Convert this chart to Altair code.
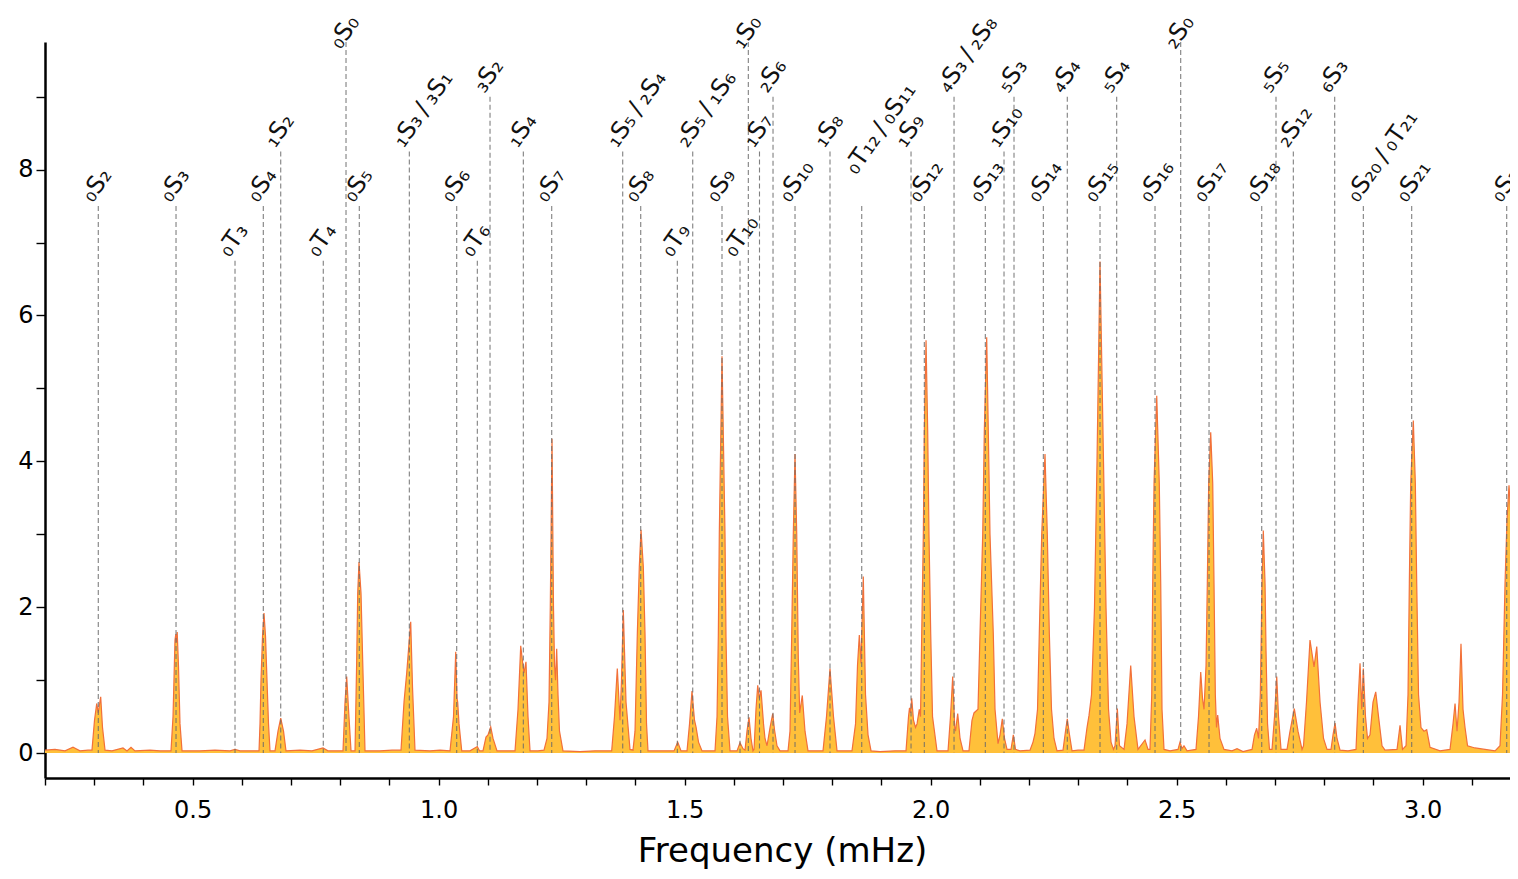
import altair as alt
import pandas as pd

# ---- spectrum (frequency in mHz, amplitude); one line per peak group ----
freq = [
    0.2000, 0.2203, 0.2407, 0.2569, 0.2711, 0.2874,
    0.2955, 0.3006, 0.3051, 0.3081, 0.3132, 0.3169, 0.3220,
    0.3362, 0.3585, 0.3667, 0.3748, 0.3829, 0.4134, 0.4337,
    0.4561, 0.4602, 0.4642, 0.4659, 0.4671, 0.4687, 0.4713, 0.4744, 0.4785,
    0.5150, 0.5455, 0.5760, 0.5862, 0.5963, 0.6207,
    0.6350, 0.6370, 0.6390, 0.6421, 0.6451, 0.6482, 0.6512, 0.6543, 0.6573,
    0.6675, 0.6736, 0.6791, 0.6848, 0.6898,
    0.7183, 0.7427, 0.7650, 0.7752, 0.7955,
    0.8057, 0.8098, 0.8132, 0.8169, 0.8220,
    0.8301, 0.8335, 0.8356, 0.8382, 0.8423, 0.8457, 0.8504,
    0.8809, 0.9053,
    0.9236, 0.9297, 0.9352, 0.9398, 0.9433, 0.9470, 0.9520,
    0.9825, 1.0028,
    1.0232, 1.0303, 1.0348, 1.0374, 1.0388, 1.0415, 1.0470,
    1.0638, 1.0787, 1.0831,
    1.0902, 1.0963, 1.1004, 1.1059, 1.1106, 1.1187,
    1.1350,
    1.1553, 1.1614, 1.1669, 1.1715, 1.1736, 1.1776, 1.1817, 1.1858,
    1.2020, 1.2142,
    1.2203, 1.2244, 1.2270, 1.2305, 1.2335, 1.2356, 1.2376, 1.2400, 1.2427, 1.2457, 1.2528,
    1.2874, 1.3179,
    1.3518, 1.3575, 1.3632, 1.3687, 1.3717, 1.3754, 1.3809, 1.3890,
    1.3951, 1.3992, 1.4039, 1.4079, 1.4114, 1.4161, 1.4195, 1.4226, 1.4256,
    1.4500,
    1.4785, 1.4860, 1.4927,
    1.5049, 1.5100, 1.5150, 1.5201, 1.5232, 1.5283, 1.5354,
    1.5618, 1.5659, 1.5685, 1.5705, 1.5760, 1.5821, 1.5841, 1.5872, 1.5923,
    1.6065, 1.6126, 1.6187,
    1.6228, 1.6268, 1.6309, 1.6350, 1.6390,
    1.6411, 1.6451, 1.6486, 1.6518, 1.6553, 1.6604, 1.6634,
    1.6675, 1.6736, 1.6791, 1.6827, 1.6878, 1.6939,
    1.7102, 1.7142, 1.7177, 1.7209, 1.7244, 1.7279, 1.7311, 1.7339, 1.7392, 1.7447, 1.7508,
    1.7650,
    1.7813, 1.7884, 1.7955, 1.8026, 1.8098,
    1.8260,
    1.8402, 1.8474, 1.8514, 1.8551, 1.8585, 1.8632, 1.8677, 1.8728, 1.8789,
    1.8972, 1.9276,
    1.9500, 1.9551, 1.9571, 1.9591, 1.9616, 1.9652, 1.9693,
    1.9724, 1.9770, 1.9795, 1.9819, 1.9852, 1.9872, 1.9907, 1.9941, 1.9967, 2.0002, 2.0039, 2.0130,
    2.0232,
    2.0354, 2.0404, 2.0449, 2.0490, 2.0506, 2.0551, 2.0598, 2.0659,
    2.0780, 2.0841, 2.0882, 2.0963, 2.1004, 2.1059, 2.1091, 2.1140, 2.1173, 2.1207, 2.1274, 2.1309, 2.1370,
    2.1411, 2.1457, 2.1502, 2.1553,
    2.1634, 2.1681, 2.1726, 2.1817,
    2.2020, 2.2081, 2.2122, 2.2173, 2.2209, 2.2258, 2.2325, 2.2372, 2.2413, 2.2457, 2.2508, 2.2569,
    2.2691, 2.2742, 2.2778, 2.2823, 2.2874,
    2.2996,
    2.3118, 2.3179, 2.3220, 2.3270, 2.3331, 2.3382, 2.3443, 2.3514, 2.3565, 2.3616, 2.3667, 2.3717,
    2.3748, 2.3795, 2.3839,
    2.3931, 2.3992, 2.4067, 2.4134, 2.4215,
    2.4358, 2.4419,
    2.4459, 2.4494, 2.4514, 2.4541, 2.4596, 2.4648, 2.4677, 2.4703, 2.4744,
    2.4866,
    2.5028, 2.5069, 2.5110, 2.5150, 2.5211,
    2.5394, 2.5445, 2.5490, 2.5526, 2.5557, 2.5598, 2.5624, 2.5652, 2.5693, 2.5734, 2.5760, 2.5787, 2.5811, 2.5835, 2.5882, 2.5963,
    2.6126, 2.6228, 2.6350,
    2.6533, 2.6583, 2.6628, 2.6665, 2.6701, 2.6715, 2.6736, 2.6762, 2.6797, 2.6817, 2.6848, 2.6888,
    2.6939, 2.6990, 2.7035, 2.7071, 2.7122,
    2.7244, 2.7305, 2.7392, 2.7467, 2.7549,
    2.7579, 2.7640, 2.7711, 2.7793, 2.7848, 2.7915, 2.7986, 2.8057,
    2.8138, 2.8179, 2.8220, 2.8260, 2.8321,
    2.8484,
    2.8646, 2.8687, 2.8728, 2.8762, 2.8795, 2.8839, 2.8880,
    2.8931, 2.8992, 2.9047, 2.9104, 2.9175, 2.9236,
    2.9480, 2.9541, 2.9591,
    2.9663, 2.9703, 2.9730, 2.9758, 2.9811, 2.9852, 2.9880, 2.9917, 2.9967, 3.0028, 3.0083, 3.0150,
    3.0354,
    3.0557, 3.0618, 3.0659, 3.0699, 3.0740, 3.0780, 3.0821, 3.0862, 3.0913,
    3.1065, 3.1268, 3.1472,
    3.1573, 3.1624, 3.1675, 3.1715, 3.1756, 3.1797, 3.1837, 3.1898, 3.1980,
]
amp = [
    0.04, 0.05, 0.03, 0.08, 0.03, 0.04,
    0.04, 0.45, 0.68, 0.55, 0.77, 0.35, 0.04,
    0.03, 0.07, 0.03, 0.08, 0.03, 0.04, 0.03,
    0.03, 0.50, 1.55, 1.63, 1.52, 1.66, 1.20, 0.40, 0.03,
    0.03, 0.04, 0.03, 0.05, 0.03, 0.03,
    0.03, 0.40, 1.00, 1.60, 1.92, 1.60, 1.00, 0.40, 0.03,
    0.03, 0.30, 0.48, 0.30, 0.03,
    0.04, 0.03, 0.07, 0.03, 0.03,
    0.03, 0.70, 1.05, 0.60, 0.03,
    0.03, 1.27, 2.19, 2.62, 2.19, 1.27, 0.03,
    0.03, 0.04,
    0.04, 0.70, 1.10, 1.50, 1.80, 0.90, 0.04,
    0.03, 0.04,
    0.03, 0.50, 1.39, 0.75, 0.70, 0.40, 0.03,
    0.03, 0.09, 0.03,
    0.03, 0.22, 0.25, 0.36, 0.20, 0.03,
    0.03,
    0.03, 0.60, 1.47, 1.20, 1.10, 1.25, 0.50, 0.03,
    0.03, 0.04,
    0.20, 0.70, 2.00, 4.31, 2.00, 1.20, 1.00, 1.43, 0.80, 0.30, 0.03,
    0.02, 0.03,
    0.03, 0.50, 1.16, 0.45, 1.00, 1.96, 0.70, 0.05,
    0.04, 0.30, 1.64, 2.55, 3.06, 2.55, 1.64, 0.40, 0.03,
    0.03,
    0.03, 0.15, 0.03,
    0.03, 0.40, 0.85, 0.45, 0.36, 0.15, 0.03,
    0.03, 0.50, 1.60, 3.00, 5.44, 3.00, 1.60, 0.50, 0.03,
    0.03, 0.14, 0.06,
    0.04, 0.30, 0.49, 0.20, 0.03,
    0.05, 0.60, 0.93, 0.75, 0.86, 0.40, 0.20,
    0.10, 0.35, 0.54, 0.32, 0.10, 0.03,
    0.03, 0.30, 1.64, 3.00, 4.10, 3.00, 1.30, 0.55, 0.79, 0.30, 0.03,
    0.03,
    0.03, 0.50, 1.16, 0.50, 0.03,
    0.03,
    0.03, 0.40, 1.20, 1.62, 1.23, 2.42, 0.80, 0.25, 0.03,
    0.02, 0.03,
    0.03, 0.50, 0.62, 0.55, 0.75, 0.45, 0.35,
    0.40, 0.60, 0.50, 1.64, 3.00, 4.40, 5.66, 4.40, 3.00, 1.64, 0.50, 0.03,
    0.03,
    0.03, 0.50, 1.05, 0.35, 0.30, 0.54, 0.20, 0.03,
    0.03, 0.45, 0.55, 0.60, 1.64, 3.00, 4.40, 5.70, 4.40, 3.00, 1.64, 0.60, 0.13,
    0.25, 0.47, 0.20, 0.05,
    0.05, 0.25, 0.05, 0.03,
    0.04, 0.15, 0.27, 0.60, 1.64, 3.00, 4.10, 3.00, 1.64, 0.60, 0.20, 0.03,
    0.04, 0.30, 0.47, 0.25, 0.03,
    0.04,
    0.04, 0.35, 0.52, 0.80, 2.00, 4.00, 6.74, 4.00, 2.00, 0.60, 0.15, 0.05,
    0.10, 0.61, 0.10,
    0.05, 0.40, 1.20, 0.50, 0.05,
    0.18, 0.05,
    0.05, 0.80, 2.33, 3.70, 4.90, 3.70, 2.33, 0.60, 0.05,
    0.03,
    0.05, 0.15, 0.06, 0.10, 0.03,
    0.05, 0.50, 1.11, 0.75, 0.60, 1.20, 2.33, 3.70, 4.40, 3.70, 2.33, 0.80, 0.35, 0.52, 0.20, 0.05,
    0.03, 0.06, 0.02,
    0.05, 0.25, 0.34, 0.20, 0.80, 1.41, 2.33, 3.05, 2.33, 1.41, 0.40, 0.05,
    0.05, 0.50, 1.05, 0.50, 0.05,
    0.05, 0.30, 0.61, 0.30, 0.05,
    0.10, 0.70, 1.55, 1.18, 1.46, 0.70, 0.20, 0.05,
    0.05, 0.25, 0.41, 0.20, 0.04,
    0.03,
    0.05, 0.70, 1.23, 0.60, 1.16, 0.50, 0.20,
    0.25, 0.70, 0.84, 0.50, 0.10, 0.04,
    0.05, 0.38, 0.05,
    0.10, 0.80, 2.33, 3.70, 4.56, 3.70, 2.33, 0.80, 0.35, 0.30, 0.32, 0.08,
    0.03,
    0.05, 0.40, 0.68, 0.30, 0.70, 1.50, 0.60, 0.35, 0.10,
    0.07, 0.05, 0.03,
    0.10, 0.80, 2.33, 3.20, 3.67, 3.20, 2.33, 0.80, 0.10,
]
assert len(freq) == len(amp)

# ---- mode identifications ----
TS = "\u2009"  # thin space around the slash
mode_labels = [
    "₀S₂", "₀S₃", "₀T₃", "₀S₄", "₁S₂", "₀T₄", "₀S₀", "₀S₅", f"₁S₃{TS}/{TS}₃S₁", "₀S₆",
    "₀T₆", "₃S₂", "₁S₄", "₀S₇", f"₁S₅{TS}/{TS}₂S₄", "₀S₈", "₀T₉", f"₂S₅{TS}/{TS}₁S₆", "₀S₉", "₀T₁₀",
    "₁S₀", "₁S₇", "₂S₆", "₀S₁₀", "₁S₈", f"₀T₁₂{TS}/{TS}₀S₁₁", "₁S₉", "₀S₁₂", f"₄S₃{TS}/{TS}₂S₈", "₀S₁₃",
    "₁S₁₀", "₅S₃", "₀S₁₄", "₄S₄", "₀S₁₅", "₅S₄", "₀S₁₆", "₂S₀", "₀S₁₇", "₀S₁₈",
    "₅S₅", "₂S₁₂", "₆S₃", f"₀S₂₀{TS}/{TS}₀T₂₁", "₀S₂₁", "₀S₂₃",
]
mode_freq = [
    0.3083, 0.4663, 0.5862, 0.6437, 0.6791, 0.7656, 0.8118, 0.8388, 0.9405, 1.0368,
    1.0787, 1.1045, 1.1722, 1.2299, 1.3742, 1.4108, 1.4852, 1.5165, 1.5760, 1.6126,
    1.6295, 1.6522, 1.6797, 1.7244, 1.7955, 1.8600, 1.9602, 1.9872, 2.0476, 2.1112,
    2.1492, 2.1695, 2.2291, 2.2778, 2.3443, 2.3782, 2.4561, 2.5083, 2.5659, 2.6730,
    2.7020, 2.7372, 2.8213, 2.8795, 2.9778, 3.1709,
]
# top of each dashed marker line
mode_top = [
    7.5, 7.5, 6.75, 7.5, 8.25, 6.75, 9.75, 7.5, 8.25, 7.5,
    6.75, 9.0, 8.25, 7.5, 8.25, 7.5, 6.75, 8.25, 7.5, 6.75,
    9.75, 8.25, 9.0, 7.5, 8.25, 7.5, 8.25, 7.5, 9.0, 7.5,
    8.25, 9.0, 7.5, 9.0, 7.5, 9.0, 7.5, 9.75, 7.5, 7.5,
    9.0, 8.25, 9.0, 7.5, 7.5, 7.5,
]
# where each label starts
label_y = [
    7.5, 7.5, 6.75, 7.5, 8.25, 6.75, 9.6, 7.5, 8.25, 7.5,
    6.75, 9.0, 8.25, 7.5, 8.25, 7.5, 6.75, 8.25, 7.5, 6.75,
    9.6, 8.25, 9.0, 7.5, 8.25, 7.88, 8.25, 7.5, 9.0, 7.5,
    8.25, 9.0, 7.5, 9.0, 7.5, 9.0, 7.5, 9.6, 7.5, 7.5,
    9.0, 8.25, 9.0, 7.5, 7.5, 7.5,
]

x_ticks = [0.2, 0.3, 0.4, 0.5, 0.6, 0.7, 0.8, 0.9, 1.0, 1.1, 1.2, 1.3, 1.4, 1.5, 1.6,
           1.7, 1.8, 1.9, 2.0, 2.1, 2.2, 2.3, 2.4, 2.5, 2.6, 2.7, 2.8, 2.9, 3.0, 3.1]
y_ticks = [0, 1, 2, 3, 4, 5, 6, 7, 8, 9]

spec = pd.DataFrame({"f": freq, "a": amp})
modes = pd.DataFrame({"label": mode_labels, "f": mode_freq, "top": mode_top, "ly": label_y})

FONT = "DejaVu Sans"
FILL = "#FFC03A"
LINE = "#F2703A"

xscale = alt.Scale(domain=[0.2, 3.1776], nice=False, zero=False)
yscale = alt.Scale(domain=[-0.342, 9.75], nice=False, zero=False)

xaxis = alt.Axis(
    values=x_ticks,
    labelExpr="abs(datum.value * 2 - round(datum.value * 2)) < 0.001 ? format(datum.value, '.1f') : ''",
    labelOverlap=False, labelFlush=False,
    grid=False, domainColor="black", domainWidth=2.5,
    tickColor="black", tickWidth=1.4, tickSize=7,
    labelFont=FONT, labelFontSize=24, labelColor="black", labelPadding=13,
    title="Frequency (mHz)", titleFont=FONT, titleFontSize=34,
    titleFontWeight="normal", titleColor="black",
    titleX=737, titleY=56, titleBaseline="top", titleAlign="center",
)
yaxis = alt.Axis(
    values=y_ticks,
    labelExpr="datum.value % 2 == 0 ? format(datum.value, 'd') : ''",
    labelOverlap=False, labelFlush=False,
    grid=False, domainColor="black", domainWidth=2.5,
    tickColor="black", tickWidth=1.4, tickSize=9,
    labelFont=FONT, labelFontSize=24, labelColor="black", labelPadding=3,
    title=None,
)

area = alt.Chart(spec).mark_area(
    color=FILL, opacity=1, interpolate="linear", clip=True,
    line={"color": LINE, "strokeWidth": 1.2},
).encode(
    x=alt.X("f:Q", scale=xscale, axis=xaxis),
    y=alt.Y("a:Q", scale=yscale, axis=yaxis),
    y2=alt.datum(0),
)

rules = alt.Chart(modes).mark_rule(
    color="#6a6a6a", strokeWidth=1.1, strokeDash=[5, 3], opacity=0.85,
).encode(
    x=alt.X("f:Q", scale=xscale, axis=xaxis),
    y=alt.Y("top:Q", scale=yscale, axis=yaxis),
    y2=alt.datum(0),
)

labels = alt.Chart(modes).mark_text(
    angle=305, align="left", baseline="alphabetic", dx=-1, dy=-6,
    font=FONT, fontSize=24, color="#111111",
).encode(
    x=alt.X("f:Q", scale=xscale, axis=xaxis),
    y=alt.Y("ly:Q", scale=yscale, axis=yaxis),
    text="label:N",
)

chart = alt.layer(area, rules, labels).properties(
    width=1465, height=736,
    autosize=alt.AutoSizeParams(type="none"),
    padding={"left": 37, "top": 34, "right": 0, "bottom": 93},
    background="white",
).configure_view(stroke=None)

chart.save("out.html", embed_options={"renderer": "svg", "actions": False})
